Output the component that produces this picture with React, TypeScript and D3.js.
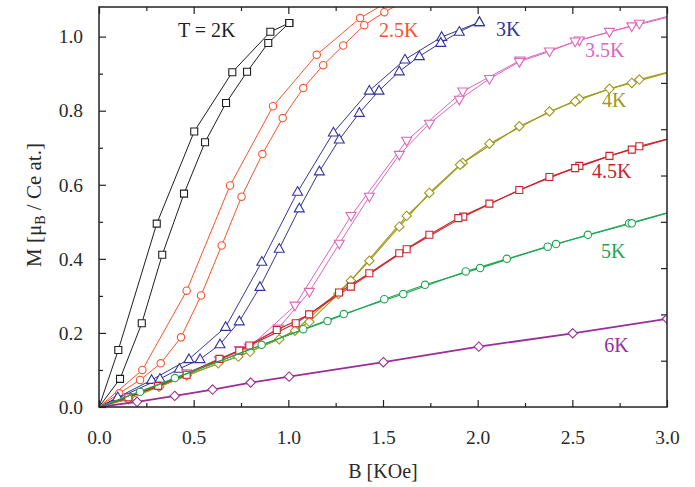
import { useEffect, useRef } from "react";
import * as d3 from "d3";

type Pt = [number, number];

// M(B) sweeps, two runs per temperature (B in kOe, M in muB / Ce)
const t2kA: Pt[] = [[0, 0], [0.102, 0.154], [0.305, 0.495], [0.503, 0.744], [0.704, 0.904], [0.905, 1.013], [1.005, 1.037]];
const t2kB: Pt[] = [[0, 0], [0.111, 0.076], [0.226, 0.226], [0.334, 0.411], [0.449, 0.576], [0.56, 0.715], [0.671, 0.821], [0.782, 0.905], [0.894, 0.983], [1.005, 1.037]];

const t25kA: Pt[] = [[0, 0], [0.229, 0.1], [0.463, 0.314], [0.692, 0.598], [0.919, 0.812], [1.15, 0.951], [1.379, 1.05], [1.61, 1.12]];
const t25kB: Pt[] = [[0, 0], [0.107, 0.037], [0.217, 0.073], [0.326, 0.118], [0.433, 0.188], [0.539, 0.301], [0.648, 0.436], [0.753, 0.568], [0.863, 0.683], [0.97, 0.78], [1.079, 0.861], [1.184, 0.923], [1.29, 0.976], [1.401, 1.031], [1.507, 1.066], [1.61, 1.095]];

const t3kA: Pt[] = [[0, 0], [0.099, 0.026], [0.278, 0.073], [0.475, 0.129], [0.669, 0.216], [0.86, 0.392], [1.049, 0.581], [1.238, 0.741], [1.428, 0.854], [1.616, 0.938], [1.81, 0.999], [2.009, 1.039]];
const t3kB: Pt[] = [[0, 0], [0.322, 0.076], [0.424, 0.103], [0.534, 0.129], [0.639, 0.169], [0.741, 0.231], [0.85, 0.324], [0.952, 0.427], [1.058, 0.536], [1.164, 0.636], [1.269, 0.722], [1.375, 0.794], [1.479, 0.854], [1.586, 0.906], [1.692, 0.947], [1.805, 0.983], [1.903, 1.013], [2.009, 1.039]];

const t35kA: Pt[] = [[0, 0], [0.152, 0.026], [0.463, 0.091], [0.794, 0.161], [1.035, 0.274], [1.331, 0.516], [1.625, 0.719], [1.921, 0.852], [2.224, 0.936], [2.537, 0.99], [2.854, 1.035], [3.05, 1.061]];
const t35kB: Pt[] = [[0, 0], [0.313, 0.057], [0.636, 0.127], [0.741, 0.154], [0.947, 0.212], [1.111, 0.311], [1.269, 0.441], [1.428, 0.568], [1.586, 0.681], [1.745, 0.765], [1.903, 0.83], [2.062, 0.886], [2.22, 0.932], [2.379, 0.96], [2.515, 0.987], [2.696, 1.013], [2.814, 1.028], [3.05, 1.058]];

const t4kA: Pt[] = [[0, 0], [0.155, 0.021], [0.463, 0.085], [0.798, 0.149], [1.035, 0.206], [1.33, 0.341], [1.625, 0.516], [1.921, 0.659], [2.22, 0.758], [2.536, 0.832], [2.854, 0.884], [3.05, 0.91]];
const t4kB: Pt[] = [[0, 0], [0.319, 0.055], [0.63, 0.118], [0.736, 0.136], [0.952, 0.183], [1.111, 0.23], [1.264, 0.305], [1.428, 0.395], [1.586, 0.487], [1.745, 0.578], [1.907, 0.654], [2.062, 0.711], [2.379, 0.798], [2.515, 0.825], [2.696, 0.859], [2.814, 0.875], [3.05, 0.909]];

const t45kA: Pt[] = [[0, 0], [0.155, 0.026], [0.463, 0.087], [0.794, 0.166], [1.039, 0.226], [1.33, 0.325], [1.625, 0.426], [1.924, 0.514], [2.22, 0.586], [2.537, 0.651], [2.854, 0.704], [3.05, 0.73]];
const t45kB: Pt[] = [[0, 0], [0.313, 0.057], [0.636, 0.13], [0.741, 0.152], [0.939, 0.208], [1.11, 0.25], [1.268, 0.309], [1.428, 0.361], [1.586, 0.415], [1.745, 0.465], [1.898, 0.51], [2.062, 0.549], [2.379, 0.621], [2.515, 0.645], [2.696, 0.678], [2.814, 0.695], [3.05, 0.73]];

const t5kA: Pt[] = [[0, 0], [0.217, 0.041], [0.859, 0.168], [1.207, 0.232], [1.507, 0.291], [1.722, 0.33], [2.013, 0.375], [2.37, 0.433], [2.582, 0.465], [2.8, 0.496], [3.05, 0.531]];
const t5kB: Pt[] = [[0, 0], [0.401, 0.078], [1.079, 0.21], [1.293, 0.251], [1.607, 0.305], [1.937, 0.366], [2.154, 0.4], [2.414, 0.44], [2.814, 0.496], [3.05, 0.531]];

const t6k: Pt[] = [[0, 0], [0.201, 0.014], [0.4, 0.03], [0.6, 0.047], [0.801, 0.066], [1.004, 0.082], [1.502, 0.121], [2.006, 0.163], [2.502, 0.199], [3.0, 0.238]];

const xMajor = [0, 0.5, 1, 1.5, 2, 2.5, 3];
const xMinor = [0.25, 0.75, 1.25, 1.75, 2.25, 2.75];
const yMajor = [0, 0.2, 0.4, 0.6, 0.8, 1.0];
const yMinor = [0.1, 0.3, 0.5, 0.7, 0.9];
const yRight = [0.125, 0.25, 0.375, 0.5, 0.625, 0.75, 0.875, 1.0];

const curves = [
  { name: "2K", color: "#1e1e1e", marker: "square", runs: [t2kA, t2kB], width: 1 },
  { name: "2.5K", color: "#f5542c", marker: "circle", runs: [t25kA, t25kB], width: 1 },
  { name: "3K", color: "#34359a", marker: "triUp", runs: [t3kA, t3kB], width: 1 },
  { name: "3.5K", color: "#dc66bc", marker: "triDown", runs: [t35kA, t35kB], width: 1 },
  { name: "4K", color: "#9d9a1c", marker: "diamond", runs: [t4kA, t4kB], width: 1.1 },
  { name: "4.5K", color: "#cc2229", marker: "square", runs: [t45kA, t45kB], width: 1.1 },
  { name: "5K", color: "#1fa553", marker: "circle", runs: [t5kA, t5kB], width: 1.1 },
  { name: "6K", color: "#9c2c98", marker: "diamond", runs: [t6k], width: 1.8 },
];

// label anchor in data coords (start x, baseline y)
const tempLabels = [
  { text: "T = 2K", b: 0.417, m: 1.0, color: "#1e1e1e" },
  { text: "2.5K", b: 1.479, m: 1.0, color: "#f5542c" },
  { text: "3K", b: 2.097, m: 1.003, color: "#34359a" },
  { text: "3.5K", b: 2.567, m: 0.946, color: "#dc66bc" },
  { text: "4K", b: 2.657, m: 0.811, color: "#9d9a1c" },
  { text: "4.5K", b: 2.604, m: 0.619, color: "#cc2229" },
  { text: "5K", b: 2.652, m: 0.403, color: "#1fa553" },
  { text: "6K", b: 2.668, m: 0.149, color: "#9c2c98" },
];

const markerPaths: Record<string, string> = {
  square: "M-3.5,-3.5h7v7h-7Z",
  triUp: "M0,-5.3L5,3.4L-5,3.4Z",
  triDown: "M0,5.3L5,-3.4L-5,-3.4Z",
  diamond: "M0,-4.7L4.7,0L0,4.7L-4.7,0Z",
};

const W = 695;
const H = 487;
const FONT = "Liberation Serif, Times New Roman, serif";

export default function App() {
  const svgRef = useRef<SVGSVGElement>(null);

  useEffect(() => {
    const svg = d3.select(svgRef.current);
    svg.selectAll("*").remove();

    const left = 99, right = 667, top = 7, bottom = 407;
    const x = d3.scaleLinear().domain([0, 3]).range([left, right]);
    const y = d3.scaleLinear().domain([0, 1.08]).range([bottom, top]);

    svg.append("rect").attr("width", W).attr("height", H).attr("fill", "#fff");

    svg.append("clipPath").attr("id", "plot-clip")
      .append("rect").attr("x", left).attr("y", top).attr("width", right - left).attr("height", bottom - top);

    // axes: ticks point inward
    const styleAxis = (g: any, fontSize: number) => {
      g.attr("font-family", null).attr("font-size", null);
      g.select(".domain").remove();
      g.selectAll("line").attr("stroke", "#222").attr("stroke-width", 1.2);
      g.selectAll("text").style("font-family", FONT).style("font-size", `${fontSize}px`).attr("fill", "#2a2a2a");
    };

    svg.append("g").attr("transform", `translate(0,${bottom})`)
      .call(d3.axisBottom(x).tickValues(xMajor).tickSizeInner(-7).tickSizeOuter(0).tickPadding(23).tickFormat(d3.format(".1f")))
      .call((g: any) => styleAxis(g, 19.5));
    svg.append("g").attr("transform", `translate(0,${bottom})`)
      .call(d3.axisBottom(x).tickValues(xMinor).tickSizeInner(-4).tickSizeOuter(0).tickFormat(() => ""))
      .call((g: any) => styleAxis(g, 10));
    svg.append("g").attr("transform", `translate(0,${top})`)
      .call(d3.axisTop(x).tickValues(xMajor).tickSizeInner(-7).tickSizeOuter(0).tickFormat(() => ""))
      .call((g: any) => styleAxis(g, 10));
    svg.append("g").attr("transform", `translate(0,${top})`)
      .call(d3.axisTop(x).tickValues(xMinor).tickSizeInner(-4).tickSizeOuter(0).tickFormat(() => ""))
      .call((g: any) => styleAxis(g, 10));

    svg.append("g").attr("transform", `translate(${left},0)`)
      .call(d3.axisLeft(y).tickValues(yMajor).tickSizeInner(-7).tickSizeOuter(0).tickPadding(16).tickFormat(d3.format(".1f")))
      .call((g: any) => styleAxis(g, 19.5));
    svg.append("g").attr("transform", `translate(${left},0)`)
      .call(d3.axisLeft(y).tickValues(yMinor).tickSizeInner(-4).tickSizeOuter(0).tickFormat(() => ""))
      .call((g: any) => styleAxis(g, 10));
    svg.append("g").attr("transform", `translate(${right},0)`)
      .call(d3.axisRight(y).tickValues(yRight).tickSizeInner(-6).tickSizeOuter(0).tickFormat(() => ""))
      .call((g: any) => styleAxis(g, 10));

    // curves
    const line = d3.line<Pt>().x((d) => x(d[0])).y((d) => y(d[1]));
    const plot = svg.append("g").attr("clip-path", "url(#plot-clip)");

    curves.forEach((c) => {
      const cg = plot.append("g");
      c.runs.forEach((run) => {
        cg.append("path")
          .attr("d", line(run))
          .attr("fill", "none")
          .attr("stroke", c.color)
          .attr("stroke-width", c.width);
      });
      c.runs.forEach((run) => {
        const pts = run.filter((d) => d[0] > 0 && d[0] <= 3 && d[1] <= 1.08);
        if (c.marker === "circle") {
          cg.selectAll(null).data(pts).enter().append("circle")
            .attr("cx", (d) => x(d[0])).attr("cy", (d) => y(d[1])).attr("r", 3.7)
            .attr("fill", "#fff").attr("stroke", c.color).attr("stroke-width", 1.1);
        } else {
          cg.selectAll(null).data(pts).enter().append("path")
            .attr("transform", (d) => `translate(${x(d[0])},${y(d[1])})`)
            .attr("d", markerPaths[c.marker])
            .attr("fill", "#fff").attr("stroke", c.color).attr("stroke-width", 1.1);
        }
      });
    });

    // frame
    svg.append("rect")
      .attr("x", left).attr("y", top).attr("width", right - left).attr("height", bottom - top)
      .attr("fill", "none").attr("stroke", "#222").attr("stroke-width", 1.5);

    // temperature labels
    svg.selectAll(".tlabel").data(tempLabels).enter().append("text")
      .attr("class", "tlabel")
      .attr("x", (d) => x(d.b)).attr("y", (d) => y(d.m))
      .attr("fill", (d) => d.color)
      .style("font-family", FONT).style("font-size", "20px")
      .text((d) => d.text);

    // axis titles
    svg.append("text")
      .attr("x", (left + right) / 2).attr("y", 478)
      .attr("text-anchor", "middle")
      .style("font-family", FONT).style("font-size", "20px").attr("fill", "#2a2a2a")
      .text("B [KOe]");

    const yt = svg.append("text")
      .attr("transform", `translate(41,205) rotate(-90)`)
      .attr("text-anchor", "middle")
      .style("font-family", FONT).style("font-size", "21px").attr("fill", "#2a2a2a");
    yt.append("tspan").text("M [\u03bc");
    yt.append("tspan").style("font-size", "14px").attr("dy", 4).text("B");
    yt.append("tspan").attr("dy", -4).text(" / Ce at.]");
  }, []);

  return (
    <svg
      ref={svgRef}
      width={W}
      height={H}
      style={{ position: "absolute", left: 0, top: 0, display: "block" }}
    />
  );
}
